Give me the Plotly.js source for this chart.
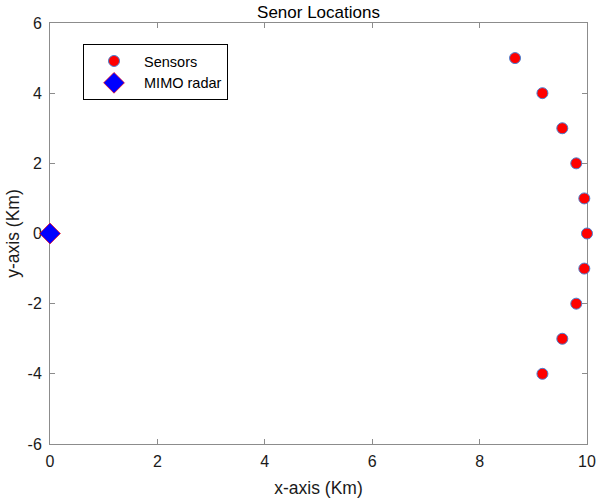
<!DOCTYPE html>
<html>
<head>
<meta charset="utf-8">
<script src="https://cdn.plot.ly/plotly-3.0.1.min.js"></script>
<style>html,body{margin:0;padding:0;background:#fff;}</style>
</head>
<body>
<div id="chart" style="width:597px;height:502px;"></div>
<script>
// Data
const sensorX = [8.66, 9.17, 9.54, 9.80, 9.95, 10.0, 9.95, 9.80, 9.54, 9.17];
const sensorY = [5, 4, 3, 2, 1, 0, -1, -2, -3, -4];
const radarX = [0];
const radarY = [0];
const xTicks = [0, 2, 4, 6, 8, 10];
const xTickText = ['0', '2', '4', '6', '8', '10'];
const yTicks = [-6, -4, -2, 0, 2, 4, 6];
const yTickText = ['-6', '-4', '-2', '0', '2', '4', '6'];

const fam = 'Liberation Sans, Arial, sans-serif';
const tickFont = {family: fam, size: 16, color: '#1a1a1a'};

const traces = [
  {
    x: sensorX, y: sensorY, type: 'scatter', mode: 'markers', name: 'Sensors',
    cliponaxis: false,
    marker: {symbol: 'circle', size: 11, color: '#ff0000', line: {color: '#4a7fd0', width: 1}}
  },
  {
    x: radarX, y: radarY, type: 'scatter', mode: 'markers', name: 'MIMO radar',
    cliponaxis: false,
    marker: {symbol: 'diamond', size: 16, color: '#0000ff', line: {color: '#ff0000', width: 0.7}}
  }
];

const axisCommon = {
  showgrid: false, zeroline: false, showline: true, mirror: 'ticks',
  linecolor: '#8c8c8c', linewidth: 1, ticks: 'inside', ticklen: 5, tickcolor: '#8c8c8c',
  tickfont: tickFont, layer: 'below traces'
};

const layout = {
  width: 597, height: 502,
  margin: {l: 50, r: 10, t: 23, b: 58},
  paper_bgcolor: '#fff', plot_bgcolor: '#fff',
  font: tickFont,
  title: {text: 'Senor Locations', font: {family: fam, size: 17, color: '#000'},
          xref: 'paper', x: 0.5, xanchor: 'center', yref: 'paper', y: 1, yanchor: 'bottom',
          pad: {b: 5}},
  xaxis: Object.assign({}, axisCommon, {
    range: [0, 10], tickvals: xTicks, ticktext: xTickText, ticklabelstandoff: 3,
    title: {text: 'x-axis (Km)', font: {family: fam, size: 17.5, color: '#1a1a1a'}, standoff: 12}
  }),
  yaxis: Object.assign({}, axisCommon, {
    range: [-6, 6], tickvals: yTicks, ticktext: yTickText, ticklabelstandoff: 4,
    title: {text: 'y-axis (Km)', font: {family: fam, size: 17.5, color: '#1a1a1a'}, standoff: 3}
  }),
  showlegend: true,
  legend: {
    x: 0.0615, y: 0.95, xanchor: 'left', yanchor: 'top',
    bordercolor: '#000', borderwidth: 1, bgcolor: '#fff',
    font: {family: fam, size: 14.5, color: '#000'},
    itemwidth: 50, tracegroupgap: 0
  }
};

Plotly.newPlot('chart', traces, layout, {displayModeBar: false, staticPlot: true});
</script>
</body>
</html>
